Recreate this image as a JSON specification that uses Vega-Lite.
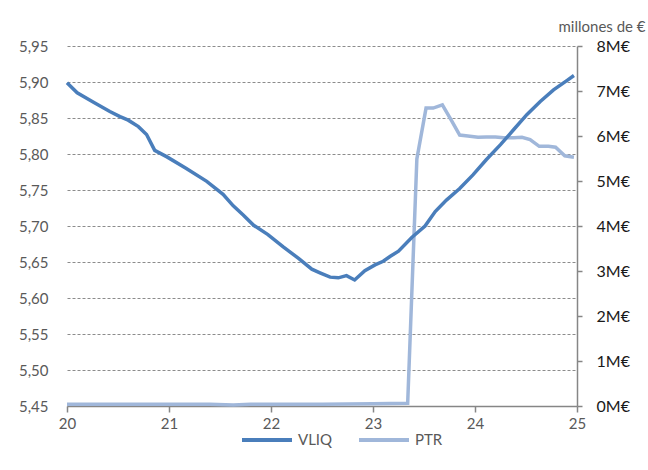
{
  "$schema": "https://vega.github.io/schema/vega-lite/v6.json",
  "width": 510,
  "height": 360,
  "autosize": {"type": "none"},
  "padding": {"left": 67, "top": 46, "right": 71, "bottom": 64},
  "background": "white",
  "config": {"view": {"stroke": null}, "font": "Lato"},
  "data": {
    "values": [
      {"serie": "VLIQ", "x": 20.0, "v": 5.899},
      {"serie": "VLIQ", "x": 20.1, "v": 5.885},
      {"serie": "VLIQ", "x": 20.26, "v": 5.872},
      {"serie": "VLIQ", "x": 20.42, "v": 5.859},
      {"serie": "VLIQ", "x": 20.52, "v": 5.852},
      {"serie": "VLIQ", "x": 20.6, "v": 5.847},
      {"serie": "VLIQ", "x": 20.7, "v": 5.838},
      {"serie": "VLIQ", "x": 20.78, "v": 5.827},
      {"serie": "VLIQ", "x": 20.86, "v": 5.805},
      {"serie": "VLIQ", "x": 20.98, "v": 5.796},
      {"serie": "VLIQ", "x": 21.17, "v": 5.78},
      {"serie": "VLIQ", "x": 21.37, "v": 5.762},
      {"serie": "VLIQ", "x": 21.53, "v": 5.744},
      {"serie": "VLIQ", "x": 21.63, "v": 5.728},
      {"serie": "VLIQ", "x": 21.73, "v": 5.715},
      {"serie": "VLIQ", "x": 21.83, "v": 5.701},
      {"serie": "VLIQ", "x": 21.97, "v": 5.688},
      {"serie": "VLIQ", "x": 22.12, "v": 5.671},
      {"serie": "VLIQ", "x": 22.27, "v": 5.655},
      {"serie": "VLIQ", "x": 22.4, "v": 5.64},
      {"serie": "VLIQ", "x": 22.48, "v": 5.635},
      {"serie": "VLIQ", "x": 22.58, "v": 5.629},
      {"serie": "VLIQ", "x": 22.66, "v": 5.628},
      {"serie": "VLIQ", "x": 22.74, "v": 5.631},
      {"serie": "VLIQ", "x": 22.82, "v": 5.625},
      {"serie": "VLIQ", "x": 22.92, "v": 5.638},
      {"serie": "VLIQ", "x": 23.02, "v": 5.646},
      {"serie": "VLIQ", "x": 23.1, "v": 5.651},
      {"serie": "VLIQ", "x": 23.17, "v": 5.658},
      {"serie": "VLIQ", "x": 23.25, "v": 5.665},
      {"serie": "VLIQ", "x": 23.38, "v": 5.684},
      {"serie": "VLIQ", "x": 23.51, "v": 5.7},
      {"serie": "VLIQ", "x": 23.61, "v": 5.72},
      {"serie": "VLIQ", "x": 23.72, "v": 5.736},
      {"serie": "VLIQ", "x": 23.85, "v": 5.752},
      {"serie": "VLIQ", "x": 23.98, "v": 5.771},
      {"serie": "VLIQ", "x": 24.11, "v": 5.792},
      {"serie": "VLIQ", "x": 24.25, "v": 5.813},
      {"serie": "VLIQ", "x": 24.38, "v": 5.834},
      {"serie": "VLIQ", "x": 24.51, "v": 5.855},
      {"serie": "VLIQ", "x": 24.64, "v": 5.873},
      {"serie": "VLIQ", "x": 24.77, "v": 5.889},
      {"serie": "VLIQ", "x": 24.9, "v": 5.902},
      {"serie": "VLIQ", "x": 24.97, "v": 5.909},
      {"serie": "PTR", "x": 20.0, "v": 0.04},
      {"serie": "PTR", "x": 20.5, "v": 0.04},
      {"serie": "PTR", "x": 21.0, "v": 0.04},
      {"serie": "PTR", "x": 21.4, "v": 0.04},
      {"serie": "PTR", "x": 21.63, "v": 0.02},
      {"serie": "PTR", "x": 21.8, "v": 0.04},
      {"serie": "PTR", "x": 22.0, "v": 0.04},
      {"serie": "PTR", "x": 22.5, "v": 0.04},
      {"serie": "PTR", "x": 23.0, "v": 0.05},
      {"serie": "PTR", "x": 23.34, "v": 0.06},
      {"serie": "PTR", "x": 23.43, "v": 5.49},
      {"serie": "PTR", "x": 23.52, "v": 6.62},
      {"serie": "PTR", "x": 23.59, "v": 6.62},
      {"serie": "PTR", "x": 23.68, "v": 6.69},
      {"serie": "PTR", "x": 23.77, "v": 6.34},
      {"serie": "PTR", "x": 23.85, "v": 6.02},
      {"serie": "PTR", "x": 23.93, "v": 6.0},
      {"serie": "PTR", "x": 24.03, "v": 5.97},
      {"serie": "PTR", "x": 24.11, "v": 5.98},
      {"serie": "PTR", "x": 24.2, "v": 5.98},
      {"serie": "PTR", "x": 24.28, "v": 5.96},
      {"serie": "PTR", "x": 24.38, "v": 5.96},
      {"serie": "PTR", "x": 24.46, "v": 5.97},
      {"serie": "PTR", "x": 24.54, "v": 5.92},
      {"serie": "PTR", "x": 24.63, "v": 5.77},
      {"serie": "PTR", "x": 24.72, "v": 5.77},
      {"serie": "PTR", "x": 24.79, "v": 5.75},
      {"serie": "PTR", "x": 24.88, "v": 5.56},
      {"serie": "PTR", "x": 24.97, "v": 5.53}
    ]
  },
  "encoding": {
    "x": {
      "field": "x",
      "type": "quantitative",
      "scale": {"domain": [20, 25], "nice": false, "zero": false},
      "axis": {
        "title": null,
        "values": [20, 21, 22, 23, 24, 25],
        "grid": false,
        "domainColor": "#868686",
        "domainWidth": 1.5,
        "tickColor": "#868686",
        "tickSize": 6,
        "tickWidth": 1.5,
        "labelFlush": false,
        "labelFontSize": 15,
        "labelColor": "#595959",
        "labelPadding": 4
      }
    },
    "color": {
      "field": "serie",
      "type": "nominal",
      "scale": {"domain": ["VLIQ", "PTR"], "range": ["#4a7ebb", "#a0b7da"]},
      "legend": {
        "title": null,
        "orient": "none",
        "legendX": 173,
        "legendY": 367,
        "direction": "horizontal",
        "symbolType": "stroke",
        "symbolSize": 2500,
        "symbolStrokeWidth": 4,
        "labelFontSize": 15,
        "labelColor": "#595959",
        "labelOffset": 4,
        "columnPadding": 18,
        "padding": 0
      }
    }
  },
  "layer": [
    {
      "transform": [{"filter": "datum.serie == 'PTR'"}],
      "mark": {"type": "line", "strokeWidth": 3.5},
      "encoding": {
        "y": {
          "field": "v",
          "type": "quantitative",
          "scale": {"domain": [0, 8], "nice": false, "zero": false},
          "axis": {
            "orient": "right",
            "title": "millones de €",
            "titleAngle": 0,
            "titleX": 68,
            "titleY": -12,
            "titleAlign": "right",
            "titleBaseline": "bottom",
            "titleFontSize": 15,
            "titleFontWeight": "normal",
            "titleColor": "#595959",
            "values": [0, 1, 2, 3, 4, 5, 6, 7, 8],
            "labelExpr": "datum.value + 'M€'",
            "grid": false,
            "domainColor": "#868686",
            "domainWidth": 1.5,
            "tickColor": "#868686",
            "tickSize": 5,
            "tickWidth": 1.5,
            "labelPadding": 14,
            "labelFontSize": 16,
            "labelColor": "#1a1a1a"
          }
        }
      }
    },
    {
      "transform": [{"filter": "datum.serie == 'VLIQ'"}],
      "mark": {"type": "line", "strokeWidth": 3.5},
      "encoding": {
        "y": {
          "field": "v",
          "type": "quantitative",
          "scale": {"domain": [5.45, 5.95], "nice": false, "zero": false},
          "axis": {
            "orient": "left",
            "title": null,
            "values": [5.45, 5.5, 5.55, 5.6, 5.65, 5.7, 5.75, 5.8, 5.85, 5.9, 5.95],
            "labelExpr": "replace(format(datum.value, '.2f'), '.', ',')",
            "domain": false,
            "ticks": false,
            "grid": true,
            "gridColor": "#8c8c8c",
            "gridDash": [3, 2],
            "gridWidth": 1,
            "labelPadding": 19,
            "labelFontSize": 15,
            "labelColor": "#595959"
          }
        }
      }
    }
  ],
  "resolve": {"scale": {"y": "independent"}}
}
